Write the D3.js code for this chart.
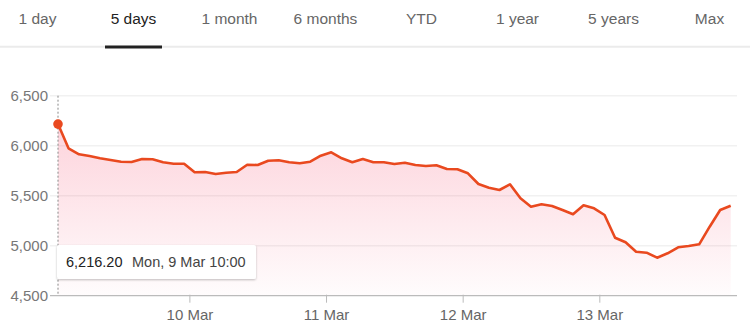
<!DOCTYPE html>
<html>
<head>
<meta charset="utf-8">
<script src="https://cdn.jsdelivr.net/npm/d3@7"></script>
<style>
  body { margin: 0; background: #fff; font-family: "Liberation Sans", Arial, sans-serif; }
  svg { display: block; }
</style>
</head>
<body>
<svg id="chart" width="750" height="336"></svg>
<script>
// range tabs
const tabs = ["1 day", "5 days", "1 month", "6 months", "YTD", "1 year", "5 years", "Max"];
const activeTab = "5 days";

// half-hour closes, 13 per session
const dayLabels = ["9 Mar", "10 Mar", "11 Mar", "12 Mar", "13 Mar"];
const day1 = [6216.2, 5974, 5914, 5897, 5874, 5857, 5840, 5837, 5867, 5864, 5834, 5820, 5820];
const day2 = [5734, 5737, 5717, 5730, 5737, 5810, 5807, 5850, 5854, 5834, 5824, 5840, 5900];
const day3 = [5934, 5874, 5834, 5867, 5834, 5834, 5817, 5830, 5807, 5797, 5804, 5767, 5764];
const day4 = [5724, 5617, 5580, 5557, 5614, 5474, 5390, 5414, 5397, 5357, 5314, 5404, 5374];
const day5 = [5307, 5080, 5034, 4940, 4930, 4880, 4924, 4984, 4997, 5014, 5190, 5357, 5400];
const yTicks = [4500, 5000, 5500, 6000, 6500];
const tipValue = "6,216.20";
const tipDate = "Mon, 9 Mar 10:00";

const days = [day1, day2, day3, day4, day5];
const series = [];
days.forEach(d => d.forEach(v => series.push(v)));
const perDay = day1.length;

const svg = d3.select("#chart");
const lineColor = "#e9491f";

// tabs
const tabX = d3.scalePoint().domain(tabs).range([37.5, 709.5]);
svg.append("line").attr("x1", 0).attr("x2", 750).attr("y1", 46.8).attr("y2", 46.8)
  .attr("stroke", "#ebebeb").attr("stroke-width", 2);
svg.selectAll(".tab").data(tabs).enter().append("text")
  .attr("x", d => tabX(d)).attr("y", 24).attr("text-anchor", "middle")
  .style("font-size", "15.5px")
  .style("fill", d => d === activeTab ? "#222" : "#666")
  .text(d => d);
svg.append("rect").attr("x", tabX(activeTab) - 28.5).attr("y", 45.5).attr("width", 57).attr("height", 3)
  .attr("fill", "#222");

// scales
const x = d3.scaleLinear().domain([0, series.length - 1]).range([58, 730.7]);
const y = d3.scaleLinear().domain([4500, 6500]).range([295.7, 95.7]);

// grid
svg.append("g").selectAll("line").data(yTicks.slice(1)).enter().append("line")
  .attr("x1", 50).attr("x2", 737).attr("y1", d => y(d)).attr("y2", d => y(d))
  .attr("stroke", "#f1f1f1").attr("stroke-width", 1.5);

// area gradient
const defs = svg.append("defs");
const grad = defs.append("linearGradient").attr("id", "fillGrad")
  .attr("gradientUnits", "userSpaceOnUse")
  .attr("x1", 0).attr("x2", 0).attr("y1", y(d3.max(series))).attr("y2", y(4500));
grad.append("stop").attr("offset", "0%").attr("stop-color", "#f5385e").attr("stop-opacity", 0.22);
grad.append("stop").attr("offset", "100%").attr("stop-color", "#f5385e").attr("stop-opacity", 0.015);

svg.append("path").datum(series)
  .attr("fill", "url(#fillGrad)")
  .attr("d", d3.area().x((d, i) => x(i)).y0(y(4500)).y1(d => y(d)));

// x axis
const boundaries = dayLabels.slice(1).map((d, i) => (i + 1) * perDay - 0.5);
const xAxis = svg.append("g").attr("transform", `translate(0,${y(4500)})`)
  .call(d3.axisBottom(x).tickValues(boundaries).tickSize(7).tickSizeOuter(0)
    .tickFormat((d, i) => dayLabels[i + 1]));
xAxis.select(".domain").remove();
xAxis.selectAll(".tick line").attr("stroke", "#bbb").attr("y1", -1);
xAxis.selectAll(".tick text").attr("y", 14).attr("dy", "0.71em")
  .style("font-family", "Liberation Sans, Arial, sans-serif").style("font-size", "15px").style("fill", "#666");
svg.append("line").attr("x1", 50).attr("x2", 737).attr("y1", y(4500)).attr("y2", y(4500))
  .attr("stroke", "#bbb").attr("stroke-width", 1.3);

// y labels
svg.append("g").selectAll("text").data(yTicks).enter().append("text")
  .attr("x", 48).attr("y", d => y(d)).attr("dy", "0.36em").attr("text-anchor", "end")
  .style("font-size", "15px").style("fill", "#777")
  .text(d => d3.format(",")(d));

// hover guide
svg.append("line").attr("x1", x(0)).attr("x2", x(0)).attr("y1", y(6500)).attr("y2", y(4500))
  .attr("stroke", "#888").attr("stroke-width", 1).attr("stroke-dasharray", "2,2");

// line
svg.append("path").datum(series)
  .attr("fill", "none").attr("stroke", lineColor).attr("stroke-width", 2.6)
  .attr("stroke-linejoin", "round")
  .attr("d", d3.line().x((d, i) => x(i)).y(d => y(d)));

svg.append("circle").attr("cx", x(0)).attr("cy", y(series[0])).attr("r", 4.8).attr("fill", lineColor);

// tooltip
const tip = svg.append("g").attr("transform", "translate(57,245)");
defs.append("filter").attr("id", "shadow").attr("x", "-10%").attr("y", "-30%").attr("width", "120%").attr("height", "160%")
  .append("feDropShadow").attr("dx", 0).attr("dy", 1).attr("stdDeviation", 1.3)
  .attr("flood-color", "#000").attr("flood-opacity", 0.25);
tip.append("rect").attr("width", 199).attr("height", 34).attr("rx", 2)
  .attr("fill", "#fff").attr("filter", "url(#shadow)");
tip.append("text").attr("x", 9).attr("y", 22).style("font-size", "14.5px").style("fill", "#222").text(tipValue);
tip.append("text").attr("x", 75).attr("y", 22).style("font-size", "14.5px").style("fill", "#444").text(tipDate);
</script>
</body>
</html>
